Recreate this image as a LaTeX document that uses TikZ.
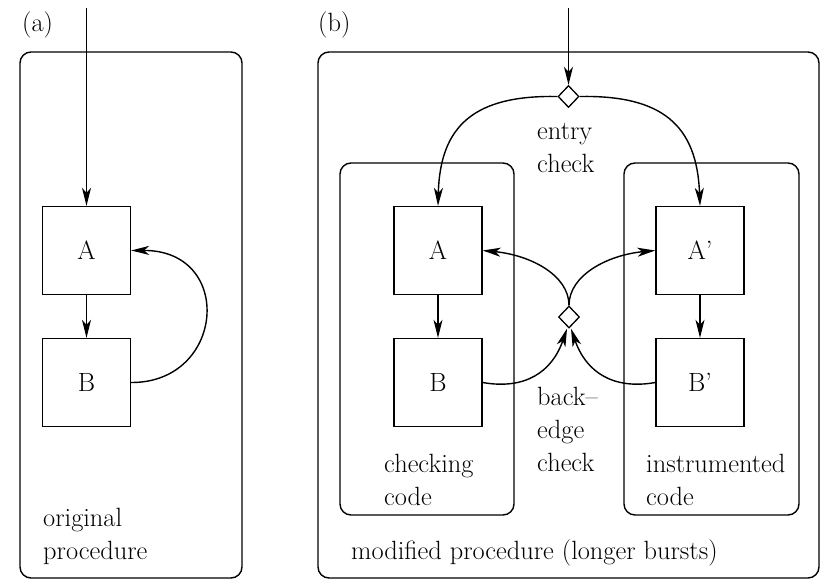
\documentclass[tikz,border=0pt]{standalone}
\usepackage{fontspec}
\usetikzlibrary{arrows.meta,shapes.geometric}
\begin{document}
\begin{tikzpicture}[x=1pt,y=-1pt,
  every node/.style={font=\rmfamily\fontsize{26.4}{33}\selectfont},
  arr/.style={line width=1.4pt,-{Stealth[length=18pt,width=9pt,inset=5pt]}},
  blk/.style={draw,line width=1.3pt,minimum width=88pt,minimum height=88pt,inner sep=0pt},
  cont/.style={draw,line width=1.4pt,rounded corners=11pt,inner sep=0pt},
  dia/.style={draw,diamond,line width=1.3pt,inner sep=0pt,minimum width=21pt,minimum height=22pt,fill=white},
  txt/.style={anchor=base west,inner sep=0pt}
]
\useasboundingbox (0,0) rectangle (828,580);
% containers
\node[cont,minimum width=222pt,minimum height=526pt] (pa) at (131,315) {};
\node[cont,minimum width=501pt,minimum height=526pt] (pb) at (568.5,315) {};
\node[cont,minimum width=174pt,minimum height=352pt] (cl) at (427,339) {};
\node[cont,minimum width=175pt,minimum height=352pt] (cr) at (711.5,339) {};
% labels
\node[txt] (la) at (22,32) {(a)};
\node[txt] (lb) at (318,32) {(b)};
% panel (a)
\node[blk] (Aa) at (86.5,250.5) {A};
\node[blk] (Ba) at (86.5,382.5) {B};
\coordinate (ta) at (86.5,8);
\draw[arr] (ta) -- (Aa.north);
\draw[arr] (Aa.south) -- (Ba.north);
\draw[arr] (Ba.east) .. controls (225,383) and (235,250) .. (Aa.east);
\node[txt] (o1) at (43,526) {original};
\node[txt] (o2) at (43,559) {procedure};
% panel (b)
\node[blk] (Ab) at (438,250.5) {A};
\node[blk] (Bb) at (438,382.5) {B};
\node[blk] (Ap) at (700,250.5) {A'};
\node[blk] (Bp) at (700,382.5) {B'};
\node[dia] (ed) at (568.5,96.5) {};
\node[dia] (bd) at (569,317) {};
\coordinate (tb) at (568.5,8);
\draw[arr] (tb) -- (ed.north);
\draw[arr] (ed.west) .. controls (475,95) and (440,125) .. (Ab.north);
\draw[arr] (ed.east) .. controls (662,95) and (697,125) .. (Ap.north);
\draw[arr] (Ab.south) -- (Bb.north);
\draw[arr] (Ap.south) -- (Bp.north);
\draw[arr] (bd.north) .. controls (569,275) and (530,255) .. (Ab.east);
\draw[arr] (bd.north) .. controls (569,275) and (608,255) .. (Ap.west);
\draw[arr] (Bb.east) .. controls (525,390) and (552,372) .. ([xshift=-2pt]bd.south);
\draw[arr] (Bp.west) .. controls (613,390) and (586,372) .. ([xshift=2pt]bd.south);
\node[txt] (e1) at (537,140) {entry};
\node[txt] (e2) at (537,173) {check};
\node[txt] (k1) at (537,405) {back--};
\node[txt] (k2) at (537,438) {edge};
\node[txt] (k3) at (537,471) {check};
\node[txt] (c1) at (384,472) {checking};
\node[txt] (c2) at (384,505) {code};
\node[txt] (i1) at (646,472) {instrumented};
\node[txt] (i2) at (646,505) {code};
\node[txt] (m1) at (351,559) {modified procedure (longer bursts)};
\end{tikzpicture}
\end{document}
